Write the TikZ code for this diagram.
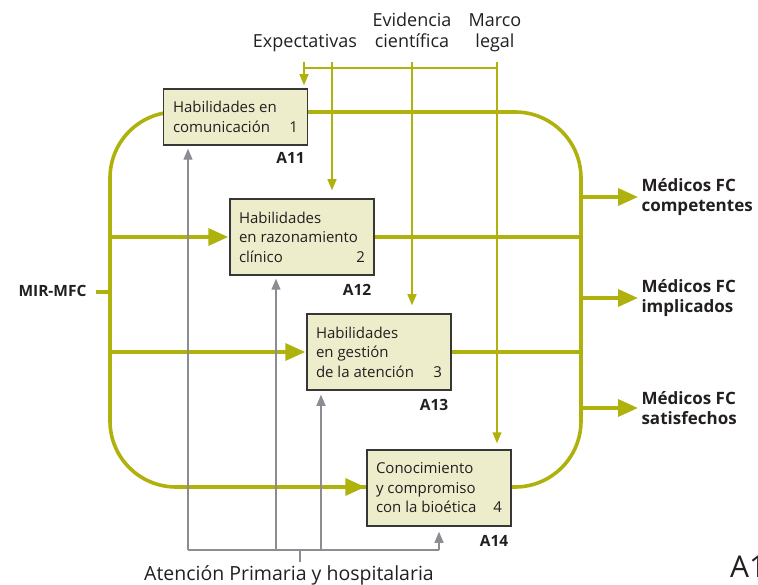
\documentclass[tikz,border=0pt]{standalone}
\usepackage{fontspec}
\setmainfont{Open Sans}
\usetikzlibrary{arrows.meta}
\definecolor{flowgreen}{RGB}{175,178,12}
\definecolor{boxfill}{RGB}{237,236,203}
\definecolor{boxline}{RGB}{55,55,55}
\definecolor{mechgray}{RGB}{140,140,146}
\definecolor{ink}{RGB}{35,31,32}
\newcommand{\numr}[1]{\hskip 0pt plus 1fill #1}
\begin{document}
\begin{tikzpicture}[x=1pt,y=-1pt,
  every node/.style={text=ink, font=\fontsize{15}{19.5}\selectfont},
  activity/.style={draw=boxline, line width=1.5pt, fill=boxfill,
    minimum width=144pt, minimum height=76pt, inner sep=0pt},
  flow/.style={draw=flowgreen, line width=3.6pt},
  flowarrow/.style={flow, -{Triangle[length=20pt,width=17pt]}},
  ctrl/.style={draw=flowgreen, line width=1.3pt},
  ctrlarrow/.style={ctrl, -{Triangle[length=11pt,width=9pt]}},
  mech/.style={draw=mechgray, line width=1.3pt},
  mecharrow/.style={mech, -{Triangle[length=11pt,width=9pt]}},
  label/.style={font=\fontsize{18}{21}\selectfont},
  boxtag/.style={font=\fontsize{15.5}{19.5}\selectfont\bfseries, anchor=base east},
  outlabel/.style={font=\fontsize{17}{20}\selectfont\bfseries, align=left, anchor=west}
]
\useasboundingbox (0,0) rectangle (758,585);

% main flow frame (drawn first, activity boxes sit on top of it)
\draw[flow, rounded corners=66pt] (110,112) rectangle (581,487);

% activity boxes
\node[activity, minimum height=56pt] (a1) at (235.5,117)
  {\parbox{125pt}{\raggedright Habilidades en\\comunicación\numr{1}}};
\node[activity] (a2) at (302,237)
  {\parbox{126pt}{\raggedright Habilidades\\en razonamiento\\clínico\numr{2}}};
\node[activity] (a3) at (379,352)
  {\parbox{126pt}{\raggedright Habilidades\\en gestión\\de la atención\numr{3}}};
\node[activity] (a4) at (439,488)
  {\parbox{126pt}{\raggedright Conocimiento\\y compromiso\\con la bioética\numr{4}}};

% node tags
\node[boxtag] (t1) at ([yshift=-18pt]a1.south east) {A11};
\node[boxtag] (t2) at ([yshift=-20pt]a2.south east) {A12};
\node[boxtag] (t3) at ([yshift=-20pt]a3.south east) {A13};
\node[boxtag] (t4) at ([yshift=-20pt]a4.south east) {A14};

% input
\node[font=\fontsize{15.5}{19.5}\selectfont\bfseries, anchor=base east] (mir) at (90,297) {MIR-MFC};
\coordinate (inL) at (110,292);
\draw[flow] ([xshift=6pt]mir.east |- inL) -- (inL);

% flows from the left bus into activities
\coordinate (l2) at (110,237);
\coordinate (l3) at (110,352);
\coordinate (l4) at (200,487);
\draw[flowarrow] (l2) -- ([xshift=-1pt]a2.west);
\draw[flowarrow] (l3) -- ([xshift=-1pt]a3.west);
\draw[flowarrow] (l4) -- ([xshift=-1pt]a4.west |- l4);

% flows from activities into the right bus
\coordinate (r2) at (581,237);
\coordinate (r3) at (581,352);
\draw[flow] (a2.east) -- (r2);
\draw[flow] (a3.east) -- (r3);

% outputs
\coordinate (o1) at (581,197);
\coordinate (o2) at (581,298);
\coordinate (o3) at (581,408);
\node[outlabel] (out1) at (638,197) {Médicos FC\\competentes};
\node[outlabel] (out2) at (638,298) {Médicos FC\\implicados};
\node[outlabel] (out3) at (638,408) {Médicos FC\\satisfechos};
\draw[flowarrow] (o1) -- (out1.west |- o1);
\draw[flowarrow] (o2) -- (out2.west |- o2);
\draw[flowarrow] (o3) -- (out3.west |- o3);

% controls
\node[label, align=center, anchor=south] (c1) at (305,57) {Expectativas\strut};
\node[label, align=center, anchor=south] (c2) at (412,57) {Evidencia\\científica\strut};
\node[label, align=center, anchor=south] (c3) at (495,57) {Marco\\legal\strut};
\coordinate (k1) at (304,62);
\coordinate (k2) at (332,62);
\coordinate (k3) at (412,62);
\coordinate (k4) at (497,62);
\draw[ctrl] (304,68) coordinate (busL) -- (497,68) coordinate (busR);
\draw[ctrlarrow, shorten >=3pt] (k1) -- (k1 |- a1.north);
\draw[ctrlarrow, shorten >=8pt] (k2) -- (k2 |- a2.north);
\draw[ctrlarrow, shorten >=8pt] (k3) -- (k3 |- a3.north);
\draw[ctrlarrow, shorten >=6pt] (k4) -- (k4 |- a4.north);

% mechanisms
\coordinate (m1) at (188,550);
\coordinate (m2) at (276,550);
\coordinate (m3) at (321,550);
\coordinate (m4) at (439,550);
\coordinate (mc) at (300,550);
\draw[mech] (m1) -- (m4);
\draw[mecharrow, shorten >=3pt] (m1) -- (m1 |- a1.south);
\draw[mecharrow, shorten >=3pt] (m2) -- (m2 |- a2.south);
\draw[mecharrow, shorten >=4pt] (m3) -- (m3 |- a3.south);
\draw[mecharrow, shorten >=5pt] (m4) -- (m4 |- a4.south);
\node[font=\fontsize{19.5}{22}\selectfont, anchor=base] (mech) at (289,580) {Atención Primaria y hospitalaria};
\draw[mech] (mc) -- (300,562);

% next page heading, cut by the page edge
\node[anchor=base west, inner sep=0pt, font=\fontsize{30}{32}\selectfont] (next) at (730,577) {A1};
\end{tikzpicture}
\end{document}
